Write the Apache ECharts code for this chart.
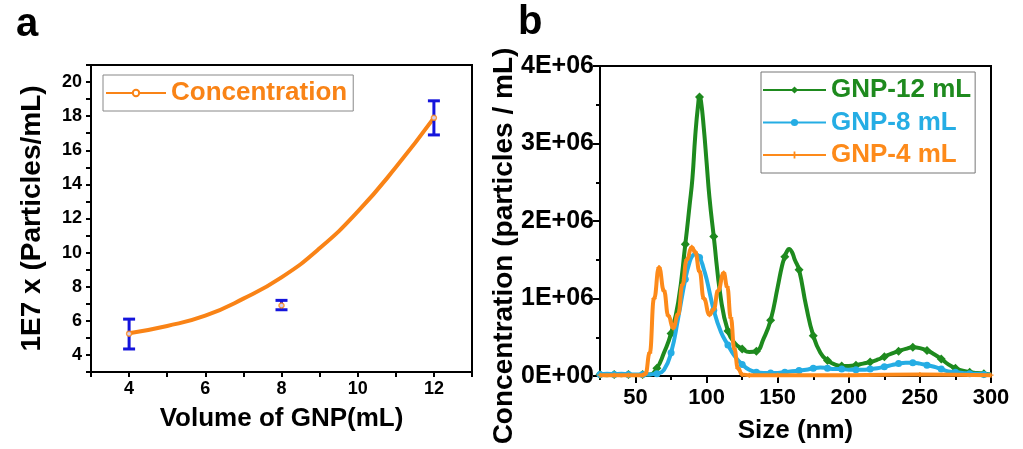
<!DOCTYPE html>
<html>
<head>
<meta charset="utf-8">
<script src="https://cdn.jsdelivr.net/npm/echarts@6/dist/echarts.min.js"></script>
<style>html,body{margin:0;background:#fff}#chart{width:1023px;height:449px}</style>
</head>
<body>
<div id="chart"></div>
<script>
// panel a: concentration vs GNP volume
var volumes = [4, 8, 12];
var concMean = [5.25, 6.9, 17.9];
var concLow = [4.35, 6.65, 16.9];
var concHigh = [6.1, 7.2, 18.9];
var fitX = [4, 5, 6, 7, 8, 9, 10, 11, 12];
var fitY = [5.27, 5.7, 6.3, 7.3, 8.55, 10.25, 12.4, 15.0, 17.9];

// panel b: size distributions (concentration in units of 1E+06)
var sizes12 = [25,30,35,40,45,50,55,60,65,70,75,80,85,88,90,92,94,95,96,98,100,102,105,110,115,120,125,130,135,140,145,150,153,155,156,158,160,162,165,170,175,180,185,190,195,200,205,210,215,220,225,230,235,240,245,250,255,260,265,270,275,280,285,290,295,300];
var conc12 = [0.02,0.01,0.02,0.01,0.02,0.01,0.02,0.02,0.1,0.3,0.55,0.95,1.7,2.2,2.55,3.1,3.5,3.6,3.55,3.2,2.75,2.3,1.8,1.0,0.58,0.42,0.35,0.31,0.32,0.48,0.72,1.15,1.42,1.54,1.59,1.64,1.6,1.5,1.37,0.9,0.52,0.3,0.2,0.15,0.13,0.13,0.14,0.16,0.18,0.21,0.25,0.29,0.32,0.35,0.37,0.36,0.33,0.28,0.22,0.15,0.1,0.07,0.05,0.04,0.03,0.02];
var sizes8 = [25,30,35,40,45,50,55,60,65,70,75,80,85,88,90,92,95,98,100,105,110,115,120,125,130,135,140,145,150,155,160,165,170,175,180,185,190,195,200,205,210,215,220,225,230,235,240,245,250,255,260,265,270,275,280,285,290,295,300];
var conc8 = [0.02,0.03,0.02,0.03,0.02,0.02,0.02,0.02,0.03,0.08,0.3,0.75,1.25,1.47,1.55,1.57,1.53,1.38,1.25,0.85,0.57,0.4,0.25,0.15,0.08,0.05,0.04,0.04,0.04,0.05,0.06,0.07,0.08,0.1,0.11,0.1,0.09,0.09,0.08,0.08,0.08,0.09,0.1,0.12,0.14,0.16,0.17,0.17,0.16,0.14,0.12,0.09,0.06,0.05,0.04,0.03,0.03,0.02,0.02];
var sizes4 = [25,35,45,55,57,60,63,66.5,70,73,76.5,80,83,86,89.5,92,95,98,102,105,108,112,114.5,117,119.5,122,125,130,150,200,250,300];
var conc4 = [0.01,0.01,0.01,0.01,0.03,0.3,1.0,1.4,1.1,0.78,0.62,0.8,1.18,1.5,1.66,1.6,1.35,1.0,0.79,0.86,1.1,1.33,1.15,0.75,0.35,0.1,0.02,0.01,0.01,0.01,0.02,0.01];

var majorSizes = [50, 100, 150, 200, 250, 300];
var minorSizes = [25, 75, 125, 175, 225, 275];

var ORANGE_A = '#f98316';
var GREEN = '#1e8a1e';
var BLUE = '#25ade4';
var ORANGE = '#fd8a1a';
var ERR = '#1414dc';
var FONT = '"Liberation Sans", Arial, sans-serif';
var PLUS = 'path://M3,0h2v3h3v2h-3v3h-2v-3h-3v-2h3z';

function zip(xs, ys){
	var out = [];
	for (var i = 0; i < xs.length; i++) out.push([xs[i], ys[i]]);
	return out;
}

var errData = [];
for (var i = 0; i < volumes.length; i++) errData.push([volumes[i], concLow[i], concHigh[i]]);

var blackLine = {lineStyle: {color: '#000', width: 2}};
var tickStyle = {color: '#000', width: 2};

var chart = echarts.init(document.getElementById('chart'));
chart.setOption({
	animation: false,
	textStyle: {fontFamily: FONT},
	grid: [
		{left: 91, top: 65, width: 381, height: 307, show: true, borderColor: '#000', borderWidth: 2},
		{left: 600, top: 66, width: 391, height: 313, show: true, borderColor: '#000', borderWidth: 2}
	],
	legend: [
		{
			data: [{name: 'Concentration', textStyle: {color: ORANGE_A}}],
			left: 103, top: 75,
			padding: [5, 6, 5, 2],
			itemWidth: 60, itemHeight: 8, itemGap: 8,
			borderColor: '#888', borderWidth: 1,
			textStyle: {fontSize: 26, fontWeight: 'bold', fontFamily: FONT}
		},
		{
			data: [
				{name: 'GNP-12 mL', textStyle: {color: GREEN}},
				{name: 'GNP-8 mL', textStyle: {color: BLUE}},
				{name: 'GNP-4 mL', textStyle: {color: ORANGE}}
			],
			orient: 'vertical',
			left: 761, top: 72,
			padding: [3, 4, 3, 1],
			itemWidth: 63, itemHeight: 9, itemGap: 2.5,
			borderColor: '#777', borderWidth: 1,
			textStyle: {fontSize: 26, fontWeight: 'bold', fontFamily: FONT, lineHeight: 30}
		}
	],
	xAxis: [
		{
			gridIndex: 0, type: 'value', min: 3, max: 13, interval: 1,
			axisLine: blackLine,
			axisTick: {length: 5, lineStyle: tickStyle},
			axisLabel: {color: '#000', fontSize: 18, fontWeight: 'bold', margin: 8,
				formatter: function(v){ return v % 2 === 0 ? v : ''; }},
			splitLine: {show: false},
			name: 'Volume of GNP(mL)', nameLocation: 'middle', nameGap: 34,
			nameTextStyle: {color: '#000', fontSize: 26, fontWeight: 'bold'}
		},
		{
			gridIndex: 1, type: 'value', min: 25, max: 300, interval: 25,
			axisLine: blackLine,
			axisTick: {length: 7, lineStyle: tickStyle, customValues: majorSizes},
			axisLabel: {color: '#000', fontSize: 22, fontWeight: 'bold', margin: 11, customValues: majorSizes},
			splitLine: {show: false},
			name: 'Size (nm)', nameLocation: 'middle', nameGap: 42,
			nameTextStyle: {color: '#000', fontSize: 26, fontWeight: 'bold'}
		},
		{
			gridIndex: 1, type: 'value', min: 25, max: 300, interval: 25, position: 'bottom',
			axisLine: {show: false},
			axisTick: {length: 4, lineStyle: tickStyle, customValues: minorSizes},
			axisLabel: {show: false},
			splitLine: {show: false}
		}
	],
	yAxis: [
		{
			gridIndex: 0, type: 'value', min: 3, max: 21, interval: 1,
			axisLine: blackLine,
			axisTick: {length: 5, lineStyle: tickStyle},
			axisLabel: {color: '#000', fontSize: 18, fontWeight: 'bold', margin: 9,
				formatter: function(v){ return v % 2 === 0 ? v : ''; }},
			splitLine: {show: false},
			name: '1E7 x (Particles/mL)', nameLocation: 'middle', nameGap: 45,
			nameTextStyle: {color: '#000', fontSize: 28, fontWeight: 'bold'}
		},
		{
			gridIndex: 1, type: 'value', min: 0, max: 4, interval: 1,
			axisLine: blackLine,
			axisTick: {length: 7, lineStyle: tickStyle},
			minorTick: {show: true, splitNumber: 2, length: 4, lineStyle: tickStyle},
			axisLabel: {color: '#000', fontSize: 25, fontWeight: 'bold', margin: 6,
				formatter: function(v){ return v === 0 ? '0E+00' : v + 'E+06'; }},
			splitLine: {show: false}
		}
	],
	graphic: [
		{type: 'text', left: 16, top: 5, style: {text: 'a', font: 'bold 40px ' + FONT, fill: '#000'}},
		{type: 'text', left: 518, top: 3, style: {text: 'b', font: 'bold 40px ' + FONT, fill: '#000'}},
		{type: 'text', x: 504, y: 246, rotation: Math.PI / 2,
			style: {text: 'Concentration (particles / mL)', font: 'bold 28px ' + FONT, fill: '#000',
				align: 'center', verticalAlign: 'middle'}}
	],
	series: [
		{
			name: 'Concentration', type: 'line', xAxisIndex: 0, yAxisIndex: 0,
			data: zip(fitX, fitY), smooth: true,
			symbol: 'emptyCircle', showSymbol: false,
			lineStyle: {color: ORANGE_A, width: 4}, itemStyle: {color: ORANGE_A}
		},
		{
			type: 'custom', xAxisIndex: 0, yAxisIndex: 0, data: errData, z: 5,
			renderItem: function(params, api){
				var lo = api.coord([api.value(0), api.value(1)]);
				var hi = api.coord([api.value(0), api.value(2)]);
				var w = 6;
				var st = {stroke: ERR, lineWidth: 3};
				return {type: 'group', children: [
					{type: 'line', shape: {x1: lo[0], y1: lo[1], x2: hi[0], y2: hi[1]}, style: st},
					{type: 'line', shape: {x1: lo[0] - w, y1: lo[1], x2: lo[0] + w, y2: lo[1]}, style: st},
					{type: 'line', shape: {x1: hi[0] - w, y1: hi[1], x2: hi[0] + w, y2: hi[1]}, style: st}
				]};
			}
		},
		{
			type: 'scatter', xAxisIndex: 0, yAxisIndex: 0, data: zip(volumes, concMean), z: 6,
			symbol: 'circle', symbolSize: 5,
			itemStyle: {color: '#fff', borderColor: ORANGE_A, borderWidth: 1.5}
		},
		{
			name: 'GNP-12 mL', type: 'line', xAxisIndex: 1, yAxisIndex: 1,
			data: zip(sizes12, conc12), smooth: 0.5,
			symbol: 'diamond', symbolSize: function(v){ return v[0] % 10 === 5 ? 9 : 0; },
			lineStyle: {color: GREEN, width: 4}, itemStyle: {color: GREEN}, z: 3
		},
		{
			name: 'GNP-8 mL', type: 'line', xAxisIndex: 1, yAxisIndex: 1,
			data: zip(sizes8, conc8), smooth: 0.5,
			symbol: 'circle', symbolSize: function(v){ return v[0] % 10 === 5 ? 7 : 0; },
			lineStyle: {color: BLUE, width: 4}, itemStyle: {color: BLUE}, z: 4
		},
		{
			name: 'GNP-4 mL', type: 'line', xAxisIndex: 1, yAxisIndex: 1,
			data: zip(sizes4, conc4), smooth: 0.5, smoothMonotone: 'x',
			symbol: PLUS, symbolSize: 5,
			lineStyle: {color: ORANGE, width: 4}, itemStyle: {color: ORANGE}, z: 5
		}
	]
});
</script>
</body>
</html>
